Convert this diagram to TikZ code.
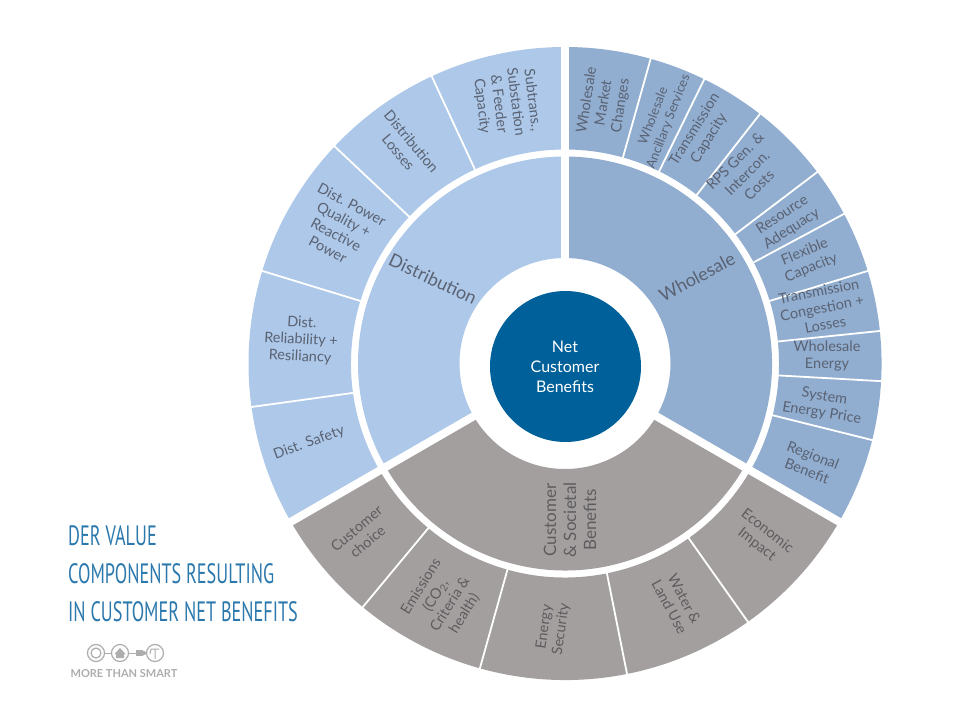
\documentclass[tikz,border=0pt]{standalone}
\usepackage{fontspec}
\setmainfont{Lato}
\newfontfamily\titlefont[FakeStretch=0.65]{PT Sans}
\definecolor{distblue}{HTML}{ADC8E8}
\definecolor{whblue}{HTML}{91AED0}
\definecolor{socgrey}{HTML}{A39F9F}
\definecolor{coreblue}{HTML}{00609A}
\definecolor{titleblue}{HTML}{2B78AD}
\definecolor{labelcol}{HTML}{5A6273}
\definecolor{greylabel}{HTML}{5E5C5E}
\definecolor{logogrey}{HTML}{ADADAD}
\newcommand{\ringsector}[5]{\fill[#1,shift={(c)}] (#2:#4pt) arc[start angle=#2,end angle=#3,radius=#4pt] -- (#3:#5pt) arc[start angle=#3,end angle=#2,radius=#5pt] -- cycle;}
\tikzset{
  outerlab/.style={align=center,font=\fontsize{14.5}{17}\selectfont,text=labelcol,inner sep=0pt},
  smalllab/.style={outerlab,font=\fontsize{13}{16}\selectfont},
  greylab/.style={outerlab,text=greylabel},
  mainlab/.style={align=center,font=\fontsize{18}{21}\selectfont,text=labelcol,inner sep=0pt},
  greymain/.style={mainlab,text=greylabel},
  sepline/.style={white,line width=1.8pt},
  gapline/.style={white,line width=8pt},
  titlelab/.style={anchor=west,font=\titlefont\fontsize{28}{30}\selectfont,text=titleblue,inner sep=0pt},
  logoring/.style={draw=logogrey,line width=1.2pt,fill=white}
}
\begin{document}
\begin{tikzpicture}[x=1pt,y=1pt]
\useasboundingbox (0,0) rectangle (960,720);
\coordinate (c) at (565,356.5);
% inner ring
\ringsector{whblue}{-30}{90}{207}{105.5}
\ringsector{distblue}{90}{210}{207}{105.5}
\ringsector{socgrey}{210}{330}{207}{105.5}
% outer ring
\ringsector{whblue}{-30}{90}{316.5}{214}
\ringsector{distblue}{90}{210}{316.5}{214}
\ringsector{socgrey}{210}{330}{316.5}{214}
% thin separators
\begin{scope}[shift={(c)}]
\foreach \a in {74.3,63.9,52,37.2,28.2,17,5.9,-3.2,-14,
                114.9,136.7,163,187.9,
                230.3,254.4,281.3,305.3}
  \draw[sepline] (\a:213pt) -- (\a:319pt);
\foreach \a in {90,210,330}
  \draw[gapline] (\a:100pt) -- (\a:322pt);
\end{scope}
% centre
\node[circle,fill=coreblue,minimum size=151pt,inner sep=0pt] (core) at (565.5,353.5) {};
\node[align=center,text=white,font=\fontsize{16}{20}\selectfont,inner sep=0pt] (corelab) at (565,353) {Net\\Customer\\Benefits};
% main labels
\node[mainlab,rotate=28] (wholesale) at (697,443) {Wholesale};
\node[mainlab,rotate=-25] (distribution) at (433,441) {Distribution};
\node[greymain,rotate=90,font=\fontsize{17}{20}\selectfont] (societal) at (570,200) {Customer\\\& Societal\\Benefits};
% wholesale outer
\node[outerlab,rotate=81] (w1) at (604,617) {Wholesale\\Market\\Changes};
\node[smalllab,rotate=69] (w2) at (661,601) {Wholesale\\Ancillary Services};
\node[outerlab,rotate=58] (w3) at (702,586) {Transmission\\Capacity};
\node[outerlab,rotate=45] (w4) at (747,547) {RPS Gen. \&\\Intercon.\\Costs};
\node[outerlab,rotate=33] (w5) at (787,498) {Resource\\Adequacy};
\node[outerlab,rotate=22] (w6) at (808,460) {Flexible\\Capacity};
\node[outerlab,rotate=11] (w7) at (822,412) {Transmission\\Congestion +\\Losses};
\node[outerlab] (w8) at (827,364) {Wholesale\\Energy};
\node[outerlab,rotate=-9] (w9) at (823,315) {System\\Energy Price};
\node[outerlab,rotate=-21] (w10) at (810,257) {Regional\\Benefit};
% customer outer
\node[greylab,rotate=-38] (s1) at (762,182) {Economic\\Impact};
\node[greylab,rotate=-62] (s2) at (677,117) {Water \&\\Land Use};
\node[greylab,rotate=82] (s3) at (553,92) {Energy\\Security};
\node[greylab,rotate=58] (s4) at (443,120) {Emissions\\(CO\textsubscript{2},\\Criteria \&\\health)};
\node[greylab,rotate=40] (s5) at (362,185) {Customer\\choice};
% distribution outer
\node[outerlab,rotate=-83] (d1) at (507,617) {Subtrans.,\\Substation\\\& Feeder\\Capacity};
\node[outerlab,rotate=-50] (d2) at (405,573) {Distribution\\Losses};
\node[outerlab,rotate=-28] (d3) at (340,493) {Dist. Power\\Quality +\\Reactive\\Power};
\node[outerlab,rotate=-3] (d4) at (301,380) {Dist.\\Reliability +\\Resiliancy};
\node[outerlab,rotate=20] (d5) at (309,277) {Dist. Safety};
% title
\node[titlelab] (t1) at (68,184) {DER VALUE};
\node[titlelab] (t2) at (68,146) {COMPONENTS RESULTING};
\node[titlelab] (t3) at (68,108) {IN CUSTOMER NET BENEFITS};
% logo
\node[circle,logoring,minimum size=17pt,inner sep=0pt] (lg1) at (96,67) {};
\node[circle,draw=logogrey,line width=1.2pt,minimum size=10pt,inner sep=0pt] (lg1b) at (96,67) {};
\node[circle,logoring,minimum size=17pt,inner sep=0pt] (lg2) at (120,67) {};
\fill[logogrey] (114.5,66) -- (120,72) -- (125.5,66) -- (124,66) -- (124,62) -- (116,62) -- (116,66) -- cycle;
\node[circle,logoring,minimum size=17pt,inner sep=0pt] (lg3) at (155,67) {};
\draw[logogrey,line width=1pt] (lg1) -- (lg2);
\draw[logogrey,line width=1pt] (lg2) -- (lg3);
\fill[logogrey] (136,64) rectangle (142,70);
\fill[logogrey] (142,64) -- (146,66) -- (146,68) -- (142,70) -- cycle;
\draw[logogrey,line width=1pt] (151,71) -- (159,71) (155,71) -- (155,61) (151,71) -- (150,66);
\node[inner sep=0pt,text=logogrey,font=\bfseries\fontsize{11}{13}\selectfont] (lgt) at (124,46) {MORE THAN SMART};
\end{tikzpicture}
\end{document}
